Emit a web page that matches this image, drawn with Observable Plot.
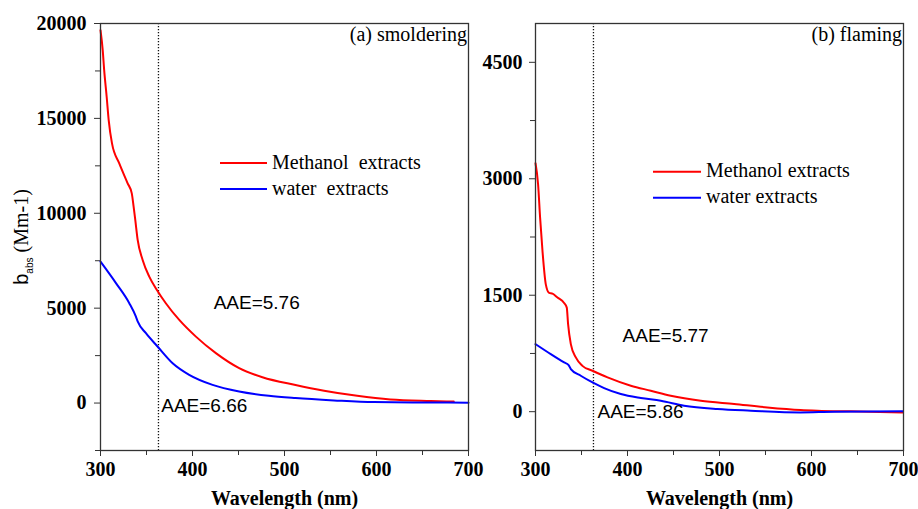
<!DOCTYPE html>
<html>
<head>
<meta charset="utf-8">
<script src="https://cdn.jsdelivr.net/npm/d3@7"></script>
<script src="https://cdn.jsdelivr.net/npm/@observablehq/plot@0.6"></script>
<style>
  html, body { margin: 0; padding: 0; background: #fff; }
  #wrap { position: relative; width: 918px; height: 509px; overflow: hidden; background: #fff; }
  #panelA { position: absolute; left: 0; top: 0; }
  #panelB { position: absolute; left: 470px; top: 0; }
</style>
</head>
<body>
<div id="wrap"><div id="panelA"></div><div id="panelB"></div></div>
<script>
// ---------- data ----------
// (a) smoldering
const smolderMethanolWl  = [300, 302.4, 304, 306.7, 308.9, 312.5, 320.4, 329.5, 334, 336, 337.8, 340.4, 345.8, 353, 361.3, 371, 385.6, 403.7, 425.4, 450.7, 476, 512, 543, 579, 615, 659, 684];
const smolderMethanolVal = [19650, 18600, 17540, 16140, 14910, 13680, 12630, 11580, 11050, 10350, 9650, 8600, 7540, 6660, 5960, 5260, 4380, 3500, 2630, 1840, 1360, 950, 650, 380, 190, 110, 80];
const smolderWaterWl  = [300, 316.8, 331.3, 338.5, 340.4, 349.4, 362, 378.4, 396.4, 421.8, 450.7, 483, 512, 553.8, 597, 651.6, 700];
const smolderWaterVal = [7450, 6320, 5260, 4550, 4300, 3680, 2980, 2100, 1490, 960, 610, 380, 260, 140, 50, 30, 20];
// (b) flaming
const flamingMethanolWl  = [300, 302.8, 305, 307.6, 311.2, 314.8, 318.5, 323.9, 331.1, 334, 335.4, 338.4, 343.8, 351, 362, 378.3, 403.6, 425.3, 447, 479.7, 515.9, 552, 588, 606.5, 642.7, 699];
const flamingMethanolVal = [3200, 2930, 2500, 2070, 1640, 1530, 1520, 1470, 1400, 1340, 1130, 870, 700, 590, 527, 441, 334, 270, 206, 141, 99, 55, 22, 13, 4, -9];
const flamingWaterWl  = [300, 316.6, 331.1, 336, 338.4, 349.2, 362, 374.6, 392.7, 414.5, 436.2, 461.5, 497.8, 534, 588, 624.6, 699];
const flamingWaterVal = [870, 741, 634, 600, 549, 463, 377, 304, 227, 176, 141, 77, 34, 13, -9, 0, 4];

const seriesNames = ["Methanol extracts", "water extracts"];
const seriesColors = ["#ff0000", "#0000ff"];
const markerWavelength = 363;

const xTicks = [300, 400, 500, 600, 700];
const xMinor = [350, 450, 550, 650];
const yTicksA = [0, 5000, 10000, 15000, 20000];
const yMinorA = [-2500, 2500, 7500, 12500, 17500];
const yTicksB = [0, 1500, 3000, 4500];
const yMinorB = [750, 2250, 3750];

const aaeTextA = ["AAE=5.76", "AAE=6.66"];
const aaeWlA = [423, 366];
const aaeValA = [5280, -130];
const aaeTextB = ["AAE=5.77", "AAE=5.86"];
const aaeWlB = [394.6, 367.4];
const aaeValB = [977, 0];

const titleA = "(a) smoldering";
const titleB = "(b) flaming";
const xTitle = "Wavelength (nm)";

// ---------- build ----------
const zip = (wl, val, s) => wl.map((w, i) => ({wl: w, v: val[i], s}));
const serif = "'Liberation Serif', 'Times New Roman', serif";
const sans = "'Liberation Sans', Arial, sans-serif";

function panel({width, ml, mr, yDomain, yTicks, yMinor, meth, water, aae, title, yPad}) {
  const data = [...meth, ...water];
  return Plot.plot({
    width, height: 509,
    marginLeft: ml, marginRight: mr, marginTop: 23, marginBottom: 59,
    style: {fontFamily: serif, fontSize: "20px", color: "black", background: "transparent", overflow: "visible"},
    x: {domain: [300, 700], label: null},
    y: {domain: yDomain, label: null},
    color: {domain: seriesNames, range: seriesColors},
    marks: [
      Plot.axisX({ticks: xTicks, tickSize: 6, tickPadding: 5, tickFormat: d => String(d), label: null, fontWeight: "bold", fontSize: 20, stroke: "#333"}),
      Plot.axisX({ticks: xMinor, tickSize: 5, tickFormat: () => "", label: null, stroke: "#333"}),
      Plot.axisY({ticks: yTicks, tickSize: 6, tickPadding: yPad, tickFormat: d => String(d), label: null, fontWeight: "bold", fontSize: 20, stroke: "#333"}),
      Plot.axisY({ticks: yMinor, tickSize: 5, tickFormat: () => "", label: null, stroke: "#333"}),
      Plot.ruleX([markerWavelength], {stroke: "#111", strokeWidth: 1.3, strokeDasharray: "1.3,1.7"}),
      Plot.line(data, {x: "wl", y: "v", z: "s", stroke: "s", strokeWidth: 2, curve: "monotone-x"}),
      Plot.text(aae.text, {x: (d, i) => aae.wl[i], y: (d, i) => aae.val[i], text: d => d, textAnchor: "start", lineAnchor: "middle", fontFamily: sans, fontSize: 19, letterSpacing: "-0.6px", fill: "black"}),
      Plot.text([title], {frameAnchor: "top-right", dx: -1.5, dy: 3, fontSize: 20, fill: "black"}),
      Plot.text([xTitle], {frameAnchor: "bottom", dy: 48, lineAnchor: "middle", fontSize: 20, fontWeight: "bold", fill: "black"}),
      Plot.frame({stroke: "#333", strokeWidth: 1.3})
    ]
  });
}

const plotA = panel({
  width: 490, ml: 100, mr: 22, yDomain: [-2500, 20000], yTicks: yTicksA, yMinor: yMinorA,
  meth: zip(smolderMethanolWl, smolderMethanolVal, seriesNames[0]),
  water: zip(smolderWaterWl, smolderWaterVal, seriesNames[1]),
  aae: {text: aaeTextA, wl: aaeWlA, val: aaeValA}, title: titleA, yPad: 8
});
const plotB = panel({
  width: 448, ml: 65, mr: 15, yDomain: [-500, 5000], yTicks: yTicksB, yMinor: yMinorB,
  meth: zip(flamingMethanolWl, flamingMethanolVal, seriesNames[0]),
  water: zip(flamingWaterWl, flamingWaterVal, seriesNames[1]),
  aae: {text: aaeTextB, wl: aaeWlB, val: aaeValB}, title: titleB, yPad: 7
});
document.getElementById("panelA").appendChild(plotA);
document.getElementById("panelB").appendChild(plotB);

// legends (line swatches)
function legend(svg, x0, x1, ys, labels) {
  const g = d3.select(svg).append("g").attr("text-anchor", "start");
  labels.forEach((lab, i) => {
    g.append("line").attr("x1", x0).attr("x2", x1).attr("y1", ys[i]).attr("y2", ys[i])
      .attr("stroke", seriesColors[i]).attr("stroke-width", 2);
    g.append("text").attr("x", x1 + 5).attr("y", ys[i] + 5.5).attr("text-anchor", "start")
      .attr("font-family", serif).attr("font-size", 20).attr("fill", "black").text(lab);
  });
}
legend(plotA, 220, 267, [163, 189], ["Methanol\u00a0 extracts", "water\u00a0 extracts"]);
legend(plotB, 183, 231, [171.7, 197.7], seriesNames);

// y axis title with subscript
const yl = d3.select(plotA).append("text")
  .attr("transform", "translate(28,237) rotate(-90)")
  .attr("text-anchor", "middle").attr("fill", "black");
yl.append("tspan").attr("font-family", sans).attr("font-size", 20).text("b");
yl.append("tspan").attr("font-family", sans).attr("font-size", 10).attr("dy", 5).text("abs");
yl.append("tspan").attr("font-family", serif).attr("font-size", 20).attr("dy", -5).text("\u00a0(Mm-1)");
</script>
</body>
</html>
